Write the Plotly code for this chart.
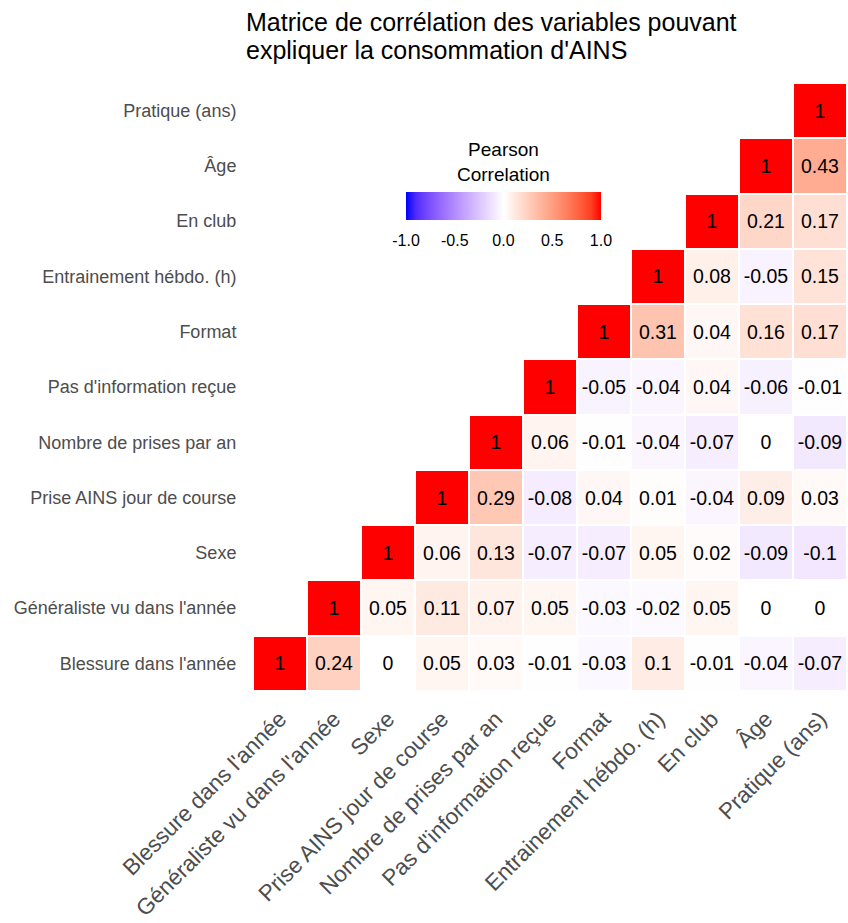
import plotly.graph_objects as go

# Variables, ordered from bottom row / left column
labels = [
    "Blessure dans l'année",
    "Généraliste vu dans l'année",
    "Sexe",
    "Prise AINS jour de course",
    "Nombre de prises par an",
    "Pas d'information reçue",
    "Format",
    "Entrainement hébdo. (h)",
    "En club",
    "Âge",
    "Pratique (ans)",
]

title_lines = [
    "Matrice de corrélation des variables pouvant",
    "expliquer la consommation d'AINS",
]

# Upper-triangle Pearson coefficients: each row starts at its own diagonal
r_blessure = [1, 0.24, 0, 0.05, 0.03, -0.01, -0.03, 0.1, -0.01, -0.04, -0.07]
r_generaliste = [1, 0.05, 0.11, 0.07, 0.05, -0.03, -0.02, 0.05, 0, 0]
r_sexe = [1, 0.06, 0.13, -0.07, -0.07, 0.05, 0.02, -0.09, -0.1]
r_prise_ains = [1, 0.29, -0.08, 0.04, 0.01, -0.04, 0.09, 0.03]
r_nb_prises = [1, 0.06, -0.01, -0.04, -0.07, 0, -0.09]
r_pas_info = [1, -0.05, -0.04, 0.04, -0.06, -0.01]
r_format = [1, 0.31, 0.04, 0.16, 0.17]
r_entrainement = [1, 0.08, -0.05, 0.15]
r_club = [1, 0.21, 0.17]
r_age = [1, 0.43]
r_pratique = [1]

rows = [r_blessure, r_generaliste, r_sexe, r_prise_ains, r_nb_prises,
        r_pas_info, r_format, r_entrainement, r_club, r_age, r_pratique]

n = len(labels)
z, txt = [], []
for i, row in enumerate(rows):
    zr = [None] * i + list(row)
    z.append(zr)
    txt.append(["" if v is None else f"{v:g}" for v in zr])


# Blue-white-red diverging scale interpolated in CIE Lab
def srgb_to_lab(c):
    def lin(u):
        u = u / 255
        return u / 12.92 if u <= 0.04045 else ((u + 0.055) / 1.055) ** 2.4
    r, g, b = (lin(u) for u in c)
    x = (0.4124 * r + 0.3576 * g + 0.1805 * b) / 0.95047
    y = (0.2126 * r + 0.7152 * g + 0.0722 * b) / 1.0
    zz = (0.0193 * r + 0.1192 * g + 0.9505 * b) / 1.08883
    def f(t):
        return t ** (1 / 3) if t > 0.008856 else 7.787 * t + 16 / 116
    fx, fy, fz = f(x), f(y), f(zz)
    return (116 * fy - 16, 500 * (fx - fy), 200 * (fy - fz))


def lab_to_srgb(lab):
    L, a, b = lab
    fy = (L + 16) / 116
    fx = fy + a / 500
    fz = fy - b / 200
    def finv(t):
        return t ** 3 if t ** 3 > 0.008856 else (t - 16 / 116) / 7.787
    x, y, zz = finv(fx) * 0.95047, finv(fy), finv(fz) * 1.08883
    r = 3.2406 * x - 1.5372 * y - 0.4986 * zz
    g = -0.9689 * x + 1.8758 * y + 0.0415 * zz
    bb = 0.0557 * x - 0.2040 * y + 1.0570 * zz
    def gam(u):
        u = max(0.0, min(1.0, u))
        return 12.92 * u if u <= 0.0031308 else 1.055 * u ** (1 / 2.4) - 0.055
    return tuple(int(round(gam(u) * 255)) for u in (r, g, bb))


blue, white, red = srgb_to_lab((0, 0, 255)), srgb_to_lab((255, 255, 255)), srgb_to_lab((255, 0, 0))
colorscale = []
steps = 20
for k in range(steps + 1):
    t = k / steps
    if t <= 0.5:
        s = t / 0.5
        lab = tuple(blue[m] + (white[m] - blue[m]) * s for m in range(3))
    else:
        s = (t - 0.5) / 0.5
        lab = tuple(white[m] + (red[m] - white[m]) * s for m in range(3))
    rr, gg, bb = lab_to_srgb(lab)
    colorscale.append([t, f"rgb({rr},{gg},{bb})"])

font_family = "Arial, Liberation Sans, sans-serif"

fig = go.Figure(
    go.Heatmap(
        z=z,
        x=labels,
        y=labels,
        text=txt,
        texttemplate="%{text}",
        textfont=dict(family=font_family, size=19.5, color="black"),
        colorscale=colorscale,
        zmin=-1,
        zmax=1,
        xgap=2,
        ygap=2,
        hoverongaps=False,
        colorbar=dict(
            orientation="h",
            x=0.4217,
            xanchor="center",
            y=0.8372,
            yanchor="top",
            len=215,
            lenmode="pixels",
            thickness=28,
            outlinewidth=0,
            tickvals=[-1, -0.5, 0, 0.5, 1],
            ticktext=["-1.0", "-0.5", "0.0", "0.5", "1.0"],
            ticks="outside",
            ticklen=7,
            tickcolor="rgba(0,0,0,0)",
            tickfont=dict(family=font_family, size=16, color="black"),
        ),
    )
)

# Colorbar heading
fig.add_annotation(
    text="Pearson<br>Correlation",
    xref="paper", yref="paper",
    x=0.4217, y=(691 - 137) / 608,
    xanchor="center", yanchor="top",
    showarrow=False,
    font=dict(family=font_family, size=19, color="black"),
)

# Chart title, left-aligned above the matrix, with tight line spacing
for k, line in enumerate(title_lines):
    fig.add_annotation(
        text=line,
        xref="paper", yref="paper",
        x=(244 - 253) / 594, y=(691 - 6 - 28 * k) / 608,
        xanchor="left", yanchor="top",
        align="left",
        showarrow=False,
        font=dict(family=font_family, size=25, color="black"),
    )

fig.update_layout(
    width=848,
    height=923,
    margin=dict(l=253, r=1, t=83, b=232),
    paper_bgcolor="white",
    plot_bgcolor="white",
    xaxis=dict(
        type="category",
        range=[-0.5, n - 0.5],
        showgrid=False,
        zeroline=False,
        tickangle=-45,
        ticks="outside",
        ticklen=5,
        tickcolor="rgba(0,0,0,0)",
        tickfont=dict(family=font_family, size=22.5, color="#4d4d4d"),
    ),
    yaxis=dict(
        type="category",
        range=[-0.5, n - 0.5],
        showgrid=False,
        zeroline=False,
        ticks="outside",
        ticklen=12,
        tickcolor="rgba(0,0,0,0)",
        tickfont=dict(family=font_family, size=18, color="#4d4d4d"),
    ),
)

fig.write_html("out.html")
